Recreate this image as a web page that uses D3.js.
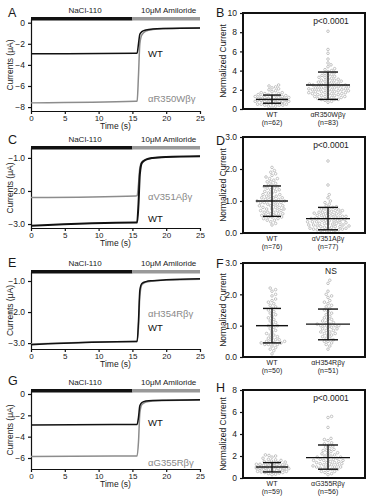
<!DOCTYPE html>
<html>
<head>
<meta charset="utf-8">
<script src="https://cdn.jsdelivr.net/npm/d3@7"></script>
<style>
body { margin: 0; background: #fff; }
text { font-family: "Liberation Sans", Arial, sans-serif; fill: #1a1a1a; }
</style>
</head>
<body>
<script>
// ---- data ----
var traceTime = [0, 15.5, 15.7, 15.9, 16.1, 16.4, 17, 18, 20, 25];

var traceA_WT  = [-2.95, -2.9, -2.88, -2.0, -1.1, -0.85, -0.7, -0.6, -0.55, -0.5];
var traceA_Mut = [-7.6, -7.45, -7.42, -5.0, -2.0, -1.15, -0.8, -0.65, -0.56, -0.5];
var traceC_WT  = [-3.05, -2.95, -2.95, -2.4, -1.5, -1.15, -1.05, -1.0, -0.97, -0.95];
var traceC_Mut = [-2.2, -2.15, -2.14, -1.8, -1.3, -1.12, -1.05, -1.0, -0.97, -0.95];
var traceE_WT  = [-3.05, -2.95, -2.95, -2.3, -1.3, -1.08, -1.02, -0.99, -0.96, -0.93];
var traceE_Mut = [-3.03, -2.95, -2.95, -2.5, -1.5, -1.12, -1.04, -1.0, -0.97, -0.94];
var traceG_WT  = [-2.9, -2.85, -2.85, -2.2, -1.1, -0.8, -0.65, -0.6, -0.58, -0.55];
var traceG_Mut = [-5.85, -5.8, -5.8, -4.5, -1.8, -1.0, -0.75, -0.65, -0.6, -0.57];

var timeTicks = [0, 5, 10, 15, 20, 25];
var ticksA = [0, -2, -4, -6, -8];
var ticksC = [-1, -2, -3];
var ticksE = [-1, -2, -3];
var ticksG = [0, -2, -4, -6];

var mutNames = ["\u03b1R350W\u03b2\u03b3", "\u03b1V351A\u03b2\u03b3", "\u03b1H354R\u03b2\u03b3", "\u03b1G355R\u03b2\u03b3"];

var scatB_WT = [0.2,0.3,0.3,0.4,0.4,0.4,0.5,0.5,0.5,0.6,0.6,0.6,0.6,0.7,0.7,0.7,0.7,0.7,0.8,0.8,0.8,0.8,0.8,0.9,0.9,0.9,0.9,0.9,1.0,1.0,1.0,1.0,1.0,1.0,1.1,1.1,1.1,1.1,1.2,1.2,1.2,1.2,1.3,1.3,1.3,1.4,1.4,1.4,1.5,1.5,1.6,1.6,1.7,1.7,1.8,1.9,2.0,2.1,2.2,2.3,2.4,2.5];
var scatB_Mut = [0.7,0.8,0.9,1.0,1.0,1.0,1.1,1.1,1.2,1.2,1.3,1.3,1.3,1.4,1.4,1.5,1.5,1.5,1.6,1.6,1.6,1.7,1.7,1.7,1.8,1.8,1.8,1.9,1.9,1.9,2.0,2.0,2.0,2.0,2.1,2.1,2.1,2.2,2.2,2.2,2.3,2.3,2.3,2.3,2.4,2.4,2.4,2.5,2.5,2.5,2.6,2.6,2.6,2.7,2.7,2.8,2.8,2.9,2.9,3.0,3.0,3.1,3.1,3.2,3.3,3.3,3.4,3.5,3.5,3.6,3.7,3.8,3.9,4.0,4.1,4.2,4.4,4.6,4.8,5.2,5.8,6.2,8.1];
var scatD_WT = [0.25,0.3,0.35,0.4,0.4,0.45,0.45,0.5,0.5,0.5,0.55,0.55,0.55,0.6,0.6,0.6,0.65,0.65,0.65,0.7,0.7,0.7,0.75,0.75,0.75,0.8,0.8,0.8,0.85,0.85,0.85,0.9,0.9,0.9,0.95,0.95,0.95,1.0,1.0,1.0,1.0,1.05,1.05,1.05,1.1,1.1,1.1,1.15,1.15,1.15,1.2,1.2,1.25,1.25,1.3,1.3,1.35,1.35,1.4,1.4,1.45,1.45,1.5,1.5,1.55,1.6,1.6,1.65,1.7,1.7,1.75,1.8,1.85,1.9,1.95,2.05];
var scatD_Mut = [0.02,0.05,0.05,0.08,0.08,0.1,0.1,0.12,0.12,0.15,0.15,0.15,0.18,0.18,0.2,0.2,0.2,0.22,0.22,0.25,0.25,0.25,0.28,0.28,0.3,0.3,0.3,0.32,0.32,0.35,0.35,0.35,0.38,0.38,0.4,0.4,0.4,0.42,0.42,0.45,0.45,0.45,0.48,0.48,0.5,0.5,0.5,0.52,0.52,0.55,0.55,0.58,0.58,0.6,0.6,0.62,0.62,0.65,0.65,0.68,0.68,0.7,0.7,0.72,0.75,0.75,0.78,0.8,0.82,0.85,0.9,0.95,1.0,1.1,1.2,1.5,2.25];
var scatF_WT = [0.1,0.2,0.25,0.3,0.35,0.4,0.4,0.4,0.45,0.45,0.45,0.5,0.5,0.5,0.55,0.55,0.6,0.6,0.65,0.7,0.7,0.75,0.8,0.85,0.9,0.95,1.0,1.0,1.05,1.1,1.15,1.2,1.25,1.3,1.35,1.4,1.45,1.5,1.55,1.6,1.65,1.7,1.75,1.8,1.85,1.95,2.0,2.1,2.15,2.2];
var scatF_Mut = [0.25,0.35,0.4,0.45,0.5,0.5,0.55,0.6,0.6,0.65,0.7,0.7,0.75,0.75,0.8,0.8,0.85,0.85,0.9,0.9,0.95,0.95,1.0,1.0,1.0,1.0,1.05,1.05,1.1,1.1,1.15,1.2,1.2,1.25,1.3,1.35,1.4,1.45,1.5,1.55,1.6,1.65,1.7,1.75,1.8,1.9,1.95,2.0,2.1,2.35,2.45];
var scatH_WT = [0.3,0.35,0.4,0.45,0.5,0.5,0.55,0.6,0.6,0.6,0.65,0.65,0.7,0.7,0.7,0.75,0.75,0.8,0.8,0.8,0.85,0.85,0.9,0.9,0.9,0.9,0.95,0.95,1.0,1.0,1.0,1.0,1.05,1.05,1.1,1.1,1.1,1.15,1.15,1.2,1.2,1.2,1.25,1.25,1.3,1.3,1.35,1.4,1.45,1.5,1.55,1.6,1.65,1.7,1.8,1.9,2.0,2.05,2.1];
var scatH_Mut = [0.3,0.4,0.5,0.6,0.6,0.7,0.8,0.8,0.9,0.9,1.0,1.0,1.0,1.1,1.1,1.2,1.2,1.2,1.3,1.3,1.4,1.4,1.4,1.5,1.5,1.6,1.6,1.6,1.7,1.7,1.8,1.8,1.9,1.9,2.0,2.0,2.1,2.2,2.2,2.3,2.4,2.5,2.5,2.6,2.7,2.8,2.9,3.0,3.1,3.2,3.4,3.5,3.6,4.6,5.5,5.6];

// mean, SD low, SD high for [WT, mutant]
var statsB = [[1.0, 0.6, 1.45], [2.5, 1.0, 3.85]];
var statsD = [[1.0, 0.52, 1.47], [0.45, 0.1, 0.8]];
var statsF = [[1.0, 0.45, 1.55], [1.05, 0.55, 1.53]];
var statsH = [[1.0, 0.55, 1.4], [1.85, 0.8, 3.0]];

var nB = [62, 83], nD = [76, 77], nF = [50, 51], nH = [59, 56];
var pTexts = ["p<0.0001", "p<0.0001", "NS", "p<0.0001"];

// ---- drawing ----
var svg = d3.select("body").append("svg")
    .attr("width", 371)
    .attr("height", 500);

var x = d3.scaleLinear().domain([0, 25]).range([31, 200]);

function letter(t, lx, ly) {
    svg.append("text").attr("x", lx).attr("y", ly)
        .style("font-size", "12.5px").text(t);
}

function drawTrace(c) {
    var y = d3.scaleLinear().domain(c.domain).range([c.bottom, c.top]);
    var g = svg.append("g");

    // solution bars
    g.append("rect").attr("x", x(0)).attr("y", c.top - 2)
        .attr("width", x(15) - x(0)).attr("height", 3.5).attr("fill", "#111");
    g.append("rect").attr("x", x(15)).attr("y", c.top - 2)
        .attr("width", x(25) - x(15)).attr("height", 3.5).attr("fill", "#999");
    g.append("text").attr("x", 85).attr("y", c.top - 6)
        .attr("text-anchor", "middle").style("font-size", "8px").text("NaCl-110");
    g.append("text").attr("x", 141).attr("y", c.top - 6)
        .style("font-size", "8px").text("10\u03bcM Amiloride");

    var ya = g.append("g").attr("transform", "translate(" + x(0) + ",0)")
        .call(d3.axisLeft(y).tickValues(c.ticks).tickSize(3).tickSizeOuter(0));
    var xa = g.append("g").attr("transform", "translate(0," + c.bottom + ")")
        .call(d3.axisBottom(x).tickValues(timeTicks).tickSize(3).tickPadding(1.5).tickSizeOuter(0));
    [ya, xa].forEach(function(a) {
        a.selectAll("text").style("font-size", "8.5px").style("font-family", "Liberation Sans, Arial, sans-serif");
        a.selectAll("path, line").attr("stroke", "#111").attr("stroke-width", 1.2);
    });
    xa.selectAll("text").style("font-size", "8px");

    g.append("text").attr("x", (x(0) + x(25)) / 2).attr("y", c.bottom + 18)
        .attr("text-anchor", "middle").style("font-size", "8.5px").text("Time (s)");
    g.append("text")
        .attr("transform", "translate(13," + ((c.top + c.bottom) / 2) + ") rotate(-90)")
        .attr("text-anchor", "middle").style("font-size", "8.5px").text("Currents (\u03bcA)");

    var line = d3.line()
        .x(function(d, i) { return x(traceTime[i]); })
        .y(function(d) { return y(d); })
        .curve(d3.curveMonotoneX);
    c.series.forEach(function(s) {
        g.append("path").datum(s.vals).attr("d", line)
            .attr("fill", "none").attr("stroke", s.color).attr("stroke-width", s.w);
    });
    c.labels.forEach(function(l) {
        g.append("text").attr("x", 148).attr("y", y(l.v))
            .attr("dy", "0.35em").style("font-size", "9.5px")
            .style("fill", l.color).text(l.text);
    });
    letter(c.letter, 8, c.letterY);
}

// beeswarm: put each point at the nearest free slot, within maxW of the centre;
// if the band is full, take the slot with the fewest overlaps
function swarm(vals, y, cx, r, maxW) {
    var placed = [];
    vals.slice().sort(function(a, b) { return a - b; }).forEach(function(v) {
        var py = y(v), best = null, bestHits = Infinity;
        var steps = Math.floor(maxW / 0.6) * 2 + 1;
        for (var k = 0; k < steps; k++) {
            var dx = (k % 2 ? 1 : -1) * Math.ceil(k / 2) * 0.6;
            var hits = 0;
            placed.forEach(function(p) {
                if ((p.x - dx) * (p.x - dx) + (p.y - py) * (p.y - py) < 4 * r * r) hits++;
            });
            if (hits < bestHits) { bestHits = hits; best = dx; }
            if (hits === 0) break;
        }
        placed.push({x: best, y: py});
    });
    return placed.map(function(p) { return {x: cx + p.x, y: p.y}; });
}

function drawScatter(c) {
    var left = 243, right = 365;
    var y = d3.scaleLinear().domain([0, c.ymax]).range([c.bottom, c.top]);
    var g = svg.append("g");
    var cx = [272, 328];
    var meanW = [16, 22], capW = [9, 10], swarmW = [17, 22];

    c.groups.forEach(function(grp, i) {
        var pts = swarm(grp.vals, y, cx[i], 1.7, swarmW[i]);
        g.selectAll(null).data(pts).enter().append("circle")
            .attr("cx", function(d) { return d.x; })
            .attr("cy", function(d) { return d.y; })
            .attr("r", 1.3)
            .attr("fill", "#fff").attr("stroke", "#a0a0a0").attr("stroke-width", 0.6);
        var st = grp.stats;
        g.append("line").attr("x1", cx[i]).attr("x2", cx[i])
            .attr("y1", y(st[1])).attr("y2", y(st[2])).attr("stroke", "#111").attr("stroke-width", 1.3);
        [[st[0], meanW[i]], [st[1], capW[i]], [st[2], capW[i]]].forEach(function(m) {
            g.append("line").attr("x1", cx[i] - m[1]).attr("x2", cx[i] + m[1])
                .attr("y1", y(m[0])).attr("y2", y(m[0]))
                .attr("stroke", "#111").attr("stroke-width", 1.4);
        });
        g.append("text").attr("x", cx[i]).attr("y", c.bottom + 8)
            .attr("text-anchor", "middle").style("font-size", "7px").text(grp.name);
        g.append("text").attr("x", cx[i]).attr("y", c.bottom + 16)
            .attr("text-anchor", "middle").style("font-size", "7px").text("(n=" + grp.n + ")");
    });

    g.append("rect").attr("x", left).attr("y", c.top)
        .attr("width", right - left).attr("height", c.bottom - c.top)
        .attr("fill", "none").attr("stroke", "#111").attr("stroke-width", 2);
    var ya = g.append("g").attr("transform", "translate(" + left + ",0)")
        .call(d3.axisLeft(y).tickValues(c.ticks).tickSize(3).tickSizeOuter(0));
    ya.select(".domain").remove();
    ya.selectAll("text").style("font-size", "8.5px").style("font-family", "Liberation Sans, Arial, sans-serif");
    ya.selectAll("line").attr("stroke", "#111").attr("stroke-width", 1.2);

    g.append("text")
        .attr("transform", "translate(226," + ((c.top + c.bottom) / 2) + ") rotate(-90)")
        .attr("text-anchor", "middle").style("font-size", "8.5px").text("Normalized Current");
    g.append("text").attr("x", 331).attr("y", c.top + 11)
        .attr("text-anchor", "middle").style("font-size", "8.5px").text(c.note);
    letter(c.letter, 216, c.letterY);
}

drawTrace({letter: "A", letterY: 17, top: 19, bottom: 111, domain: [-8.37, 0.35], ticks: ticksA,
    series: [{vals: traceA_Mut, color: "#8c8c8c", w: 1.5}, {vals: traceA_WT, color: "#111", w: 1.5}],
    labels: [{text: "WT", v: -2.9, color: "#111"}, {text: mutNames[0], v: -7.2, color: "#888"}]});
drawTrace({letter: "C", letterY: 144, top: 148, bottom: 228, domain: [-3.12, -0.7], ticks: ticksC,
    series: [{vals: traceC_Mut, color: "#8c8c8c", w: 1.5}, {vals: traceC_WT, color: "#111", w: 2}],
    labels: [{text: mutNames[1], v: -2.17, color: "#888"}, {text: "WT", v: -2.85, color: "#111"}]});
drawTrace({letter: "E", letterY: 267, top: 272, bottom: 349, domain: [-3.19, -0.71], ticks: ticksE,
    series: [{vals: traceE_Mut, color: "#8c8c8c", w: 1.5}, {vals: traceE_WT, color: "#111", w: 1.5}],
    labels: [{text: mutNames[2], v: -2.05, color: "#888"}, {text: "WT", v: -2.5, color: "#111"}]});
drawTrace({letter: "G", letterY: 385, top: 391, bottom: 469, domain: [-7.03, 0.28], ticks: ticksG,
    series: [{vals: traceG_Mut, color: "#8c8c8c", w: 1.5}, {vals: traceG_WT, color: "#111", w: 1.5}],
    labels: [{text: "WT", v: -2.7, color: "#111"}, {text: mutNames[3], v: -6.4, color: "#888"}]});

drawScatter({letter: "B", letterY: 17, top: 13, bottom: 109, ymax: 10, ticks: [0, 2, 4, 6, 8, 10], note: pTexts[0],
    groups: [{vals: scatB_WT, stats: statsB[0], name: "WT", n: nB[0]},
             {vals: scatB_Mut, stats: statsB[1], name: mutNames[0], n: nB[1]}]});
drawScatter({letter: "D", letterY: 145, top: 137, bottom: 233, ymax: 3, ticks: [0, 1, 2, 3], note: pTexts[1],
    groups: [{vals: scatD_WT, stats: statsD[0], name: "WT", n: nD[0]},
             {vals: scatD_Mut, stats: statsD[1], name: mutNames[1], n: nD[1]}]});
drawScatter({letter: "F", letterY: 268, top: 263, bottom: 357, ymax: 3, ticks: [0, 1, 2, 3], note: pTexts[2],
    groups: [{vals: scatF_WT, stats: statsF[0], name: "WT", n: nF[0]},
             {vals: scatF_Mut, stats: statsF[1], name: mutNames[2], n: nF[1]}]});
drawScatter({letter: "H", letterY: 392, top: 390, bottom: 478, ymax: 8, ticks: [0, 2, 4, 6, 8], note: pTexts[3],
    groups: [{vals: scatH_WT, stats: statsH[0], name: "WT", n: nH[0]},
             {vals: scatH_Mut, stats: statsH[1], name: mutNames[3], n: nH[1]}]});
</script>
</body>
</html>
